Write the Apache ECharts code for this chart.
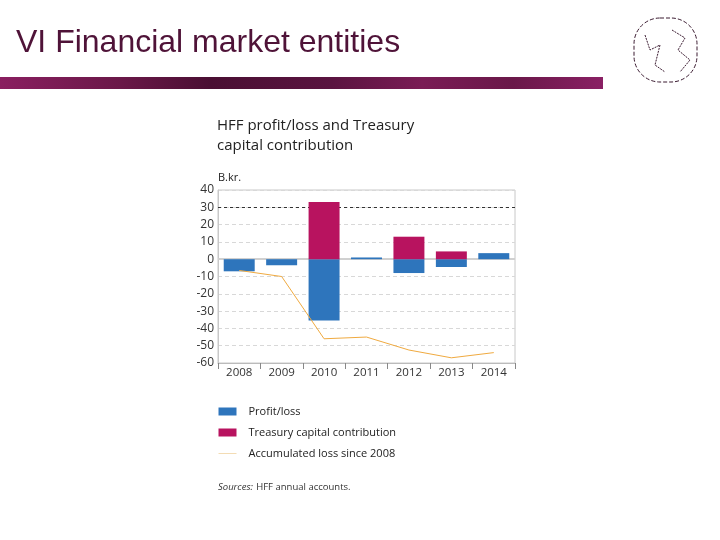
<!DOCTYPE html>
<html><head><meta charset="utf-8">
<script src="https://cdn.jsdelivr.net/npm/echarts@6/dist/echarts.min.js"></script>
<style>html,body{margin:0;padding:0;background:#fff}#c{width:720px;height:540px}</style>
</head><body><div id="c"></div>
<script>
const years = ['2008','2009','2010','2011','2012','2013','2014'];
const profitLoss = [-7, -3.5, -35.5, 1, -8, -4.5, 3.5];
const treasury = [0, 0, 33, 0, 13, 4.5, 0];
const accumulated = [-6.5, -10, -46, -45, -52.5, -57, -54];
const yTicks = {min: -60, max: 40, interval: 10};

const chart = echarts.init(document.getElementById('c'));
const F = '"Open Sans", "Noto Sans", sans-serif';
chart.setOption({
  animation: false,
  backgroundColor: '#fff',
  graphic: [
    {type:'text', left: 16, top: 27, style:{text:'VI Financial market entities', font:'32px "Liberation Sans", Arial, sans-serif', fill:'#4f1338'}},
    {type:'rect', shape:{x:0, y:77, width:603, height:12}, style:{fill:{type:'linear',x:0,y:0,x2:1,y2:0,colorStops:[
      {offset:0,color:'#8a1f60'},{offset:0.2,color:'#6a1848'},{offset:0.35,color:'#4a0f33'},{offset:0.55,color:'#5a1440'},{offset:0.7,color:'#7a1c55'},{offset:0.85,color:'#6a1849'},{offset:1,color:'#8a2064'}]}}},
    {type:'rect', shape:{x:634, y:18, width:63, height:64, r:26}, style:{fill:'none', stroke:'#3a1a30', lineWidth:1, lineDash:[4,2]}},
    {type:'polyline', shape:{points:[[645,35],[650,50],[660,45],[655,65],[665,72]]}, style:{stroke:'#3a1a30', fill:'none', lineWidth:1, lineDash:[2,1]}},
    {type:'polyline', shape:{points:[[672,30],[685,38],[678,50],[690,60],[680,72]]}, style:{stroke:'#3a1a30', fill:'none', lineWidth:1, lineDash:[2,1]}},
    {type:'text', left: 217, top: 116, style:{text:'HFF profit/loss and Treasury\ncapital contribution', font:'15px '+F, fill:'#222', lineHeight:20}},
    {type:'text', left: 218, top: 172, style:{text:'B.kr.', font:'11px '+F, fill:'#222'}},
    {type:'text', left: 218, top: 481, style:{rich:{i:{fontStyle:'italic', fontSize:9.5, fontFamily:F, fill:'#333'}, n:{fontSize:9.5, fontFamily:F, fill:'#333'}}, text:'{i|Sources:} {n|HFF annual accounts.}'}}
  ],
  grid: {left: 218, right: 205, top: 190, bottom: 177, show: true, borderColor: '#c8c8c8', borderWidth: 1},
  legend: {
    orient: 'vertical', left: 218, top: 406, padding: 0, itemGap: 10, itemWidth: 18, itemHeight: 8,
    textStyle: {fontFamily: F, fontSize: 11, color: '#222', padding:[0,0,0,7]},
    data: [
      {name:'Profit/loss', icon:'rect'},
      {name:'Treasury capital contribution', icon:'rect'},
      {name:'Accumulated loss since 2008', itemStyle:{opacity:0}, lineStyle:{color:'#f3dcb4', width:1}}
    ]
  },
  xAxis: {
    type: 'category', data: years,
    axisLine: {show: true, onZero: false, lineStyle: {color: '#bbb'}},
    axisTick: {show: true, alignWithLabel: false, length: 6, lineStyle: {color: '#888'}},
    axisLabel: {fontFamily: F, fontSize: 11.5, color: '#333', margin: 4}
  },
  yAxis: {
    type: 'value', min: yTicks.min, max: yTicks.max, interval: yTicks.interval,
    axisLine: {show: true, lineStyle: {color: '#c8c8c8'}},
    axisTick: {show: false},
    axisLabel: {fontFamily: F, fontSize: 12, color: '#333', margin: 4},
    splitLine: {show: true, lineStyle: {color: '#d8d8d8', type: [4,3]}}
  },
  series: [
    {name:'refLines', type:'line', data:[], z:1, silent:true,
     markLine:{silent:true, symbol:'none', label:{show:false}, z:1, data:[
       {yAxis:0, lineStyle:{color:'#d0d0d0', type:'solid', width:2}},
       {yAxis:30, lineStyle:{color:'#333', type:[3,3], width:1}}]}},
    {name:'Profit/loss', type:'bar', stack:'a', data: profitLoss, barCategoryGap:'27%', itemStyle:{color:'#2e75bc'}, z:3},
    {name:'Treasury capital contribution', type:'bar', stack:'a', data: treasury, itemStyle:{color:'#b8135f'}, z:3},
    {name:'Accumulated loss since 2008', type:'line', data: accumulated, symbol:'none', lineStyle:{color:'#f0aa40', width:1}, z:4}
  ]
});
</script></body></html>
